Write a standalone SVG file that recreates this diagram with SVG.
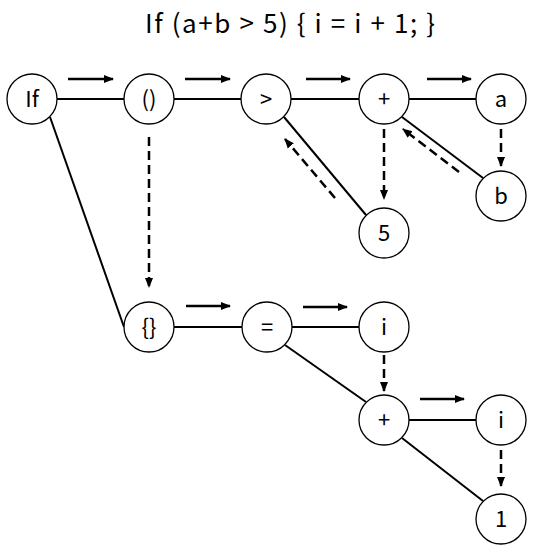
<svg xmlns="http://www.w3.org/2000/svg" width="533" height="550" viewBox="0 0 533 550">
<defs>
<marker id="ah" viewBox="0 0 10 10" refX="9" refY="5" markerWidth="4" markerHeight="4" orient="auto" markerUnits="strokeWidth">
<path d="M0,1 L10,5 L0,9 z" fill="#000"/>
</marker>
<marker id="ahd" viewBox="0 0 10 10" refX="9" refY="5" markerWidth="4" markerHeight="4" orient="auto" markerUnits="strokeWidth">
<path d="M0,1 L10,5 L0,9 z" fill="#000"/>
</marker>
</defs>
<style>
.n circle{fill:#fff;stroke:#000;stroke-width:1.3}
.n text{font-family:"Noto Sans CJK SC","Noto Sans",sans-serif;font-weight:400;font-size:22px;text-anchor:middle;fill:#000}
.e{stroke:#000;stroke-width:2;fill:none}
.a{stroke:#000;stroke-width:2.5;fill:none;marker-end:url(#ah)}
.d{stroke:#000;stroke-width:2.5;fill:none;stroke-dasharray:9 5;marker-end:url(#ahd)}
.t{font-family:"Noto Sans CJK SC","Noto Sans",sans-serif;font-weight:400;font-size:26px;fill:#000}
</style>
<rect width="533" height="550" fill="#fff"/>
<text class="t" x="145" y="33" textLength="290" lengthAdjust="spacing">If (a+b &gt; 5) { i = i + 1; }</text>
<g id="connectors">
<line class="e" x1="57" y1="99" x2="124" y2="99"/>
<line class="e" x1="174" y1="99" x2="241" y2="99"/>
<line class="e" x1="291" y1="99" x2="359" y2="99"/>
<line class="e" x1="409" y1="99" x2="476" y2="99"/>
<line class="e" x1="50" y1="117" x2="124" y2="327"/>
<line class="e" x1="284" y1="117" x2="366" y2="215"/>
<line class="e" x1="402" y1="117" x2="483" y2="178"/>
<line class="e" x1="174" y1="327" x2="242" y2="327"/>
<line class="e" x1="292" y1="327" x2="359" y2="327"/>
<line class="e" x1="285" y1="345" x2="366" y2="402"/>
<line class="e" x1="409" y1="420" x2="476" y2="420"/>
<line class="e" x1="402" y1="438" x2="483" y2="501"/>
<line class="a" x1="68" y1="79" x2="113" y2="79"/>
<line class="a" x1="185" y1="79" x2="230" y2="79"/>
<line class="a" x1="306" y1="79" x2="350" y2="79"/>
<line class="a" x1="427" y1="79" x2="471" y2="79"/>
<line class="a" x1="186" y1="306" x2="230" y2="306"/>
<line class="a" x1="303" y1="307" x2="347" y2="307"/>
<line class="a" x1="420" y1="399" x2="464" y2="399"/>
<line class="d" x1="149" y1="137" x2="149" y2="287"/>
<line class="d" x1="384" y1="129" x2="384" y2="199"/>
<line class="d" x1="501" y1="129" x2="501" y2="166"/>
<line class="d" x1="384" y1="355" x2="384" y2="391"/>
<line class="d" x1="501" y1="450" x2="501" y2="486"/>
<line class="d" x1="335" y1="198" x2="285" y2="139"/>
<line class="d" x1="459" y1="172" x2="403" y2="129"/>
</g>
<g id="n-if" class="n"><circle cx="32" cy="99" r="25"/><text x="32" y="107">If</text></g>
<g id="n-paren" class="n"><circle cx="149" cy="99" r="25"/><text x="149" y="107">()</text></g>
<g id="n-gt" class="n"><circle cx="266" cy="99" r="25"/><text x="266" y="107">&gt;</text></g>
<g id="n-plus1" class="n"><circle cx="384" cy="99" r="25"/><text x="384" y="107">+</text></g>
<g id="n-a" class="n"><circle cx="501" cy="99" r="25"/><text x="501" y="107">a</text></g>
<g id="n-b" class="n"><circle cx="501" cy="196" r="25"/><text x="501" y="204">b</text></g>
<g id="n-5" class="n"><circle cx="384" cy="233" r="25"/><text x="384" y="241">5</text></g>
<g id="n-brace" class="n"><circle cx="149" cy="327" r="25"/><text x="149" y="335">{}</text></g>
<g id="n-eq" class="n"><circle cx="267" cy="327" r="25"/><text x="267" y="335">=</text></g>
<g id="n-i1" class="n"><circle cx="384" cy="327" r="25"/><text x="384" y="335">i</text></g>
<g id="n-plus2" class="n"><circle cx="384" cy="420" r="25"/><text x="384" y="428">+</text></g>
<g id="n-i2" class="n"><circle cx="501" cy="420" r="25"/><text x="501" y="428">i</text></g>
<g id="n-1" class="n"><circle cx="501" cy="519" r="25"/><text x="501" y="527">1</text></g>
</svg>
